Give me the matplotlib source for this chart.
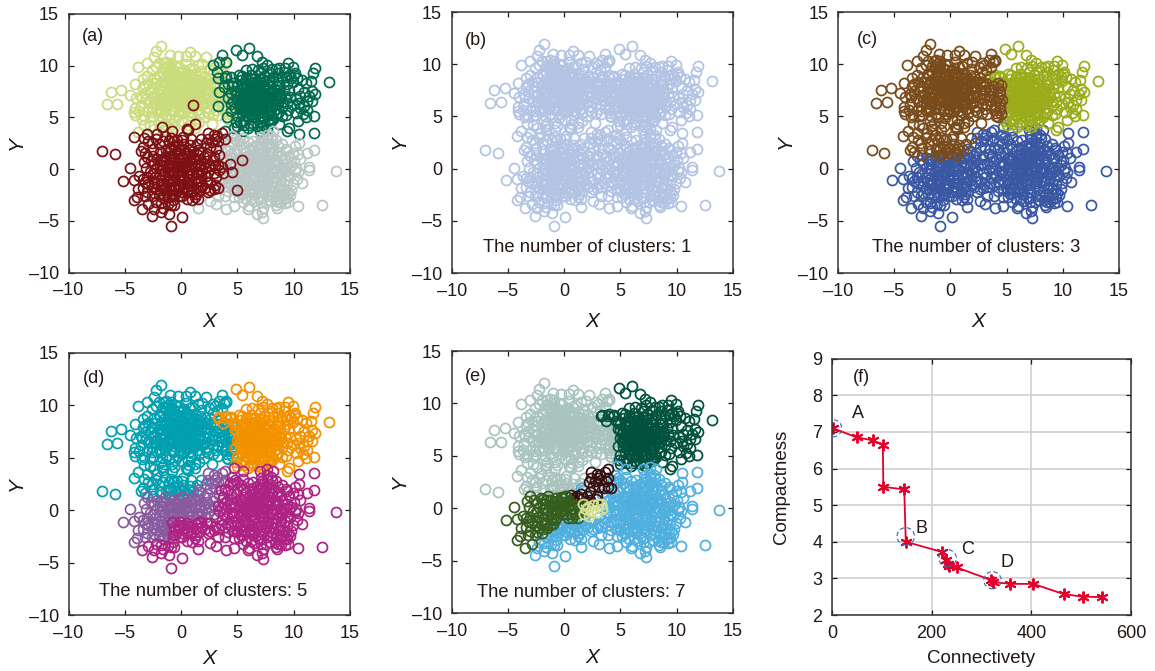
import matplotlib
matplotlib.use("Agg")
import matplotlib.pyplot as plt
from matplotlib.patches import Ellipse

plt.rcParams["font.family"] = ["Liberation Sans", "DejaVu Sans"]

# =========================
# DATA
# =========================
top_left = [
    (-6.6,6.3),(-6.2,7.5),(-5.3,7.7),(-5.65,6.35),(-4.5,7.2),(-4.1,8.2),(-3.85,9.9),(-4.0,6.9),(-4.1,5.9),(-4.15,5.5),
    (-4.05,5.2),(-3.6,6.2),(-3.4,7.9),(-3.2,7.4),(-3.0,10.3),(-2.6,9.6),(-2.4,10.8),(-2.2,11.4),(-1.8,11.9),(-2.9,6.5),
    (-3.0,5.6),(-3.3,4.3),(-2.8,4.2),(-3.8,3.6),(-2.9,8.3),(-2.7,7.4),(-2.6,6.0),(-2.5,5.1),(-2.4,8.8),(-2.2,9.9),
    (-2.0,7.7),(-2.1,6.7),(-1.9,5.6),(-1.8,4.6),(-1.6,3.8),(-1.7,8.4),(-1.6,9.3),(-1.5,10.3),(-1.4,7.2),(-1.4,6.2),
    (-1.3,5.2),(-1.2,10.0),(-1.2,8.8),(-1.1,7.8),(-1.0,6.7),(-1.0,9.5),(-0.9,5.7),(-0.8,4.4),(-0.8,8.3),(-0.7,7.2),
    (-0.6,6.1),(-0.5,9.1),(-0.5,10.0),(-0.4,7.8),(-0.4,6.7),(-0.3,10.9),(-0.3,5.2),(-0.2,8.5),(-0.1,7.3),(0.0,6.2),
    (0.1,9.4),(0.1,4.7),(0.2,8.0),(0.3,6.9),(0.3,5.5),(0.4,10.2),(0.5,7.6),(0.6,8.8),(0.6,6.3),(0.7,4.3),
    (0.8,11.3),(0.8,9.7),(0.9,7.2),(0.9,5.1),(1.0,8.3),(1.1,6.6),(1.2,10.9),(1.2,9.2),(1.3,7.8),(1.4,5.7),
    (1.5,10.1),(1.6,8.6),(1.6,7.1),(1.7,6.2),(1.8,9.5),(1.9,7.9),(2.0,5.0),(2.1,8.9),(2.2,10.8),(2.2,7.3),
    (2.3,6.0),(2.5,9.7),(2.6,8.2),(2.7,4.4),(2.7,6.8),(2.8,5.3),(3.0,9.9),(3.1,7.5),(3.2,6.2),(3.4,8.9),
    (3.9,6.7),(4.1,6.5),(4.0,6.0),(4.2,4.9),(4.1,5.3),(3.6,6.1),(4.3,8.8),(4.8,8.2),(4.0,10.3),(6.7,6.8),
    (-2.3,7.1),(-2.2,5.6),(-2.5,7.9),(-1.9,8.9),(-1.8,6.2),(-1.7,7.3),(-1.5,8.0),(-1.3,9.7),(-1.2,6.7),(-1.1,7.3),
    (-1.0,8.4),(-0.9,9.9),(-0.9,7.6),(-0.8,6.6),(-0.7,8.8),(-0.6,5.6),(-0.6,7.9),(-0.5,8.4),(-0.4,7.1),(-0.3,9.4),
    (-0.3,6.2),(-0.2,7.7),(-0.1,8.9),(-0.1,6.8),(0.0,7.9),(0.0,5.4),(0.1,8.4),(0.2,7.2),(0.2,6.5),(0.3,9.0),
    (0.4,7.8),(0.4,6.0),(0.5,8.3),(0.6,7.1),(0.7,7.9),(0.7,5.5),(0.8,6.7),(0.9,8.8),(1.0,7.6),(1.1,5.9),
    (1.2,7.2),(1.3,8.7),(1.4,6.4),(1.5,7.5),(1.7,8.2),(1.8,6.8),(2.0,7.7),(2.1,6.4),(2.3,8.3),(2.4,7.0),
    (-3.1,6.8),(-3.3,5.1),(-2.4,6.5),(-2.0,10.3),(-1.7,5.0),(-1.1,4.9),(-0.6,4.1),(0.4,4.0),(1.6,4.6),(2.4,5.4),
]
core_top_left = [
    (-1.3,10.4),(-0.9,10.3),(-1.6,9.8),(-1.2,9.3),(-0.7,9.6),(-0.2,9.9),(0.3,9.6),(0.7,9.2),(1.0,9.8),(-2.0,9.1),
    (-1.5,8.7),(-1.0,8.9),(-0.4,8.9),(0.1,8.9),(0.5,9.2),(1.1,8.7),(1.7,9.0),(-2.3,8.3),(-1.9,8.1),(-1.3,8.3),
    (-0.9,8.0),(-0.3,8.2),(0.3,8.3),(0.8,8.0),(1.4,8.2),(2.0,8.4),(2.6,8.7),(-2.7,7.8),(-2.1,7.4),(-1.6,7.6),
    (-1.2,7.6),(-0.7,7.7),(-0.2,7.5),(0.3,7.5),(0.8,7.6),(1.2,7.5),(1.8,7.5),(2.4,7.7),(2.9,8.2),(-2.5,7.0),
    (-1.9,6.9),(-1.5,6.8),(-0.8,7.0),(-0.2,7.0),(0.4,6.9),(1.0,6.9),(1.5,6.9),(2.1,6.9),(2.8,7.2),(3.4,7.0),
    (-2.2,6.3),(-1.6,6.4),(-1.0,6.3),(-0.4,6.4),(0.2,6.2),(0.7,6.5),(1.3,6.2),(1.9,6.3),(2.8,6.2),(-2.6,5.5),
    (-2.0,5.8),(-1.4,5.7),(-0.7,5.5),(-0.1,5.7),(0.5,5.8),(1.0,5.4),(1.6,5.3),(2.2,5.6),(3.1,5.7),(-1.5,4.4),
    (-0.5,4.8),(0.6,4.7),(1.2,4.0),(3.5,7.6),(3.8,7.2),(4.2,7.7),(4.4,7.1),(3.9,5.6),(4.4,5.9),(4.5,5.2),
    (-3.4,8.7),(-3.0,9.0),(-2.8,5.0),(-3.5,6.9),(3.6,9.7),(3.8,10.2),(2.8,9.3),(1.9,10.2),(0.4,10.9),(-1.0,11.0),
    (2.9,7.9),(3.2,8.2),(3.0,6.7),(3.5,6.6),(3.7,8.3),(3.3,5.2),(-3.6,7.1),(-3.7,5.6),(-3.2,8.1),(-3.5,4.9),(-2.4,3.9),
]
top_right = [
    (2.8,10.1),(3.4,10.4),(3.6,11.0),(4.0,10.4),(3.2,9.4),(3.3,8.8),(3.9,8.8),(4.6,8.3),(3.8,7.9),(3.4,7.5),
    (3.3,6.1),(4.4,6.3),(4.1,5.0),(4.9,11.5),(5.4,11.0),(6.0,11.7),(6.7,10.9),(7.2,10.4),(7.6,10.1),(8.1,9.7),
    (8.7,9.8),(9.5,10.3),(9.9,9.9),(10.0,9.1),(10.3,8.8),(10.4,7.8),(11.1,8.3),(11.5,8.5),(13.1,8.4),(11.7,9.3),
    (11.9,9.8),(11.6,7.6),(11.9,7.3),(11.2,6.6),(11.6,6.6),(10.6,5.9),(10.8,5.3),(11.2,5.7),(11.1,5.0),(11.8,5.1),
    (10.4,4.7),(10.5,3.4),(11.8,3.5),(9.3,5.2),(9.6,4.0),(9.4,3.7),(8.7,4.4),(7.0,3.7),(7.2,4.0),(7.6,3.9),
    (5.5,3.7),(4.7,4.0),(3.9,3.7),(5.0,4.2),(5.5,4.7),(5.9,4.0),(6.3,4.5),(6.6,5.0),(7.0,4.6),(7.4,5.0),
    (7.8,4.5),(8.2,4.9),(8.6,5.4),(9.0,5.1),(9.5,5.7),(9.9,6.2),(10.2,6.8),(9.7,7.0),(9.4,6.4),(9.0,6.0),
    (8.7,6.6),(8.4,5.8),(8.1,6.3),(7.8,5.5),(7.5,6.0),(7.2,5.5),(6.9,5.9),(6.5,5.6),(6.2,5.2),(5.8,5.5),
    (5.4,5.4),(5.0,5.1),(4.8,5.9),(5.1,6.4),(5.5,6.1),(5.9,6.5),(6.2,6.1),(6.5,6.6),(6.9,6.4),(7.2,6.8),
    (7.6,6.5),(8.0,7.0),(8.4,6.9),(8.8,7.3),(9.2,7.1),(9.6,7.7),(9.9,8.4),(9.4,8.2),(9.0,8.8),(8.7,8.1),
    (8.3,7.7),(7.9,7.9),(7.5,7.3),(7.1,7.6),(6.7,7.2),(6.3,7.5),(5.9,7.1),(5.5,7.4),(5.1,7.1),(4.8,7.6),
    (5.0,8.0),(5.4,8.2),(5.8,7.9),(6.2,8.3),(6.6,8.0),(7.0,8.4),(7.4,8.1),(7.8,8.6),(8.2,8.9),(8.6,9.3),
    (9.1,9.4),(7.4,9.0),(7.0,9.3),(6.6,8.8),(6.2,9.1),(5.8,8.8),(5.4,9.0),(5.1,9.1),(5.8,9.6),(6.3,9.7),
    (6.8,9.6),(7.3,9.8),(7.8,9.4),(6.0,5.9),(6.1,6.9),(6.4,7.0),(6.6,6.2),(6.8,7.7),(7.0,7.0),(7.3,6.3),
    (5.7,6.8),(5.6,7.9),(6.0,8.5),(6.4,5.9),(6.8,5.4),(7.1,6.1),(7.4,7.7),(7.7,7.1),(5.3,6.7),(5.2,5.8),
    (6.1,7.6),(6.5,8.4),(6.9,8.7),(5.9,5.0),(5.2,4.6),(8.5,7.4),(8.9,6.9),(8.0,5.2),(7.7,4.8),(6.7,4.2),
]
core_top_right = [
    (5.3,8.6),(5.7,8.4),(6.3,8.7),(6.8,8.3),(7.2,8.7),(7.7,8.2),(8.1,8.3),(8.6,8.6),(9.3,8.9),(5.0,7.5),
    (5.4,7.8),(5.8,7.5),(6.2,7.9),(6.5,7.7),(6.9,8.0),(7.3,8.0),(7.7,7.7),(8.1,7.5),(8.5,8.0),(9.1,7.7),
    (5.2,7.3),(5.6,7.1),(6.0,7.3),(6.3,7.2),(6.6,7.5),(6.9,7.3),(7.2,7.3),(7.5,7.0),(7.9,7.3),(8.3,7.1),
    (8.7,7.0),(9.0,6.5),(5.0,6.7),(5.4,6.6),(5.7,6.4),(6.0,6.7),(6.3,6.6),(6.6,6.8),(6.9,6.8),(7.2,6.5),
    (7.5,6.7),(7.8,6.8),(8.2,6.6),(8.5,6.3),(5.2,6.2),(5.6,5.9),(5.9,6.1),(6.2,6.4),(6.5,6.1),(6.8,6.1),
    (7.1,6.4),(7.4,6.2),(7.7,6.0),(8.0,5.8),(8.3,6.2),(5.5,5.7),(5.8,5.2),(6.2,5.6),(6.6,5.7),(7.0,5.6),
    (7.3,5.8),(7.6,5.2),(8.0,4.7),(8.4,5.3),(5.6,4.3),(6.4,5.0),(7.1,5.1),(7.3,4.3),(6.1,4.3),(4.9,4.6),
    (4.0,9.0),(4.4,8.9),(4.2,8.2),(9.6,9.1),(9.8,8.8),(10.1,9.3),(9.2,9.8),(8.4,9.7),(10.6,7.1),(10.9,6.1),
    (4.4,7.4),(4.2,6.9),(4.5,8.0),(4.6,6.6),(4.4,5.6),(10.2,5.4),(10.7,8.6),(10.9,7.5),(11.4,7.1),(10.5,6.4),
]
bottom_left = [
    (-7.0,1.8),(-5.9,1.5),(-5.2,-1.1),(-4.5,0.1),(-4.2,-1.0),(-4.2,3.1),(-4.2,-3.0),(-3.95,-2.7),(-3.8,-1.9),(-3.4,-1.8),
    (-3.5,-3.8),(-3.3,3.0),(-3.4,2.1),(-3.2,1.6),(-3.3,0.7),(-3.1,0.1),(-3.4,-0.9),(-2.9,-3.4),(-2.6,-4.5),(-2.4,-3.8),
    (-1.8,-4.1),(-1.8,-3.3),(-1.1,-4.3),(-0.9,-3.5),(-0.6,-3.5),(-0.9,-5.5),(0.1,-4.6),(0.1,-2.6),(-1.7,4.1),(-0.8,3.7),
    (0.5,3.9),(0.6,3.8),(1.2,4.4),(1.1,6.2),(2.4,3.5),(2.9,3.3),(3.2,3.2),(3.9,2.9),(2.7,2.6),(3.1,2.0),
    (2.6,2.1),(1.8,2.9),(3.3,0.4),(3.4,-0.1),(4.3,0.5),(4.5,-0.3),(5.4,0.9),(5.0,-2.0),(3.3,-1.8),(3.0,-1.5),
    (2.4,-2.2),(1.5,-2.9),(1.2,-2.7),(1.0,-3.0),(-2.9,2.7),(-2.5,2.0),(-2.2,2.9),(-1.9,1.7),(-1.6,2.7),(-1.3,1.9),
    (-0.9,3.0),(-0.7,2.2),(-0.4,2.8),(-0.1,1.9),(0.2,2.4),(0.5,1.6),(0.8,2.3),(1.1,1.8),(1.4,2.4),(1.7,1.7),
    (2.0,1.2),(2.3,0.8),(2.6,0.3),(2.9,-0.4),(2.2,-0.7),(2.6,-1.2),(1.9,-1.6),(1.6,-2.1),(1.3,-1.3),(1.5,-0.4),
    (1.7,0.4),(1.3,1.0),(0.9,0.3),(1.0,-0.6),(0.7,-1.5),(0.5,-2.2),(0.3,-0.9),(0.4,0.7),(0.1,1.2),(-0.1,0.2),
    (-0.2,-0.6),(-0.3,-1.6),(-0.5,-2.4),(-0.6,0.7),(-0.7,-0.2),(-0.8,-1.1),(-0.9,-2.0),(-1.0,1.3),(-1.1,0.3),(-1.2,-0.6),
    (-1.3,-1.6),(-1.5,-2.5),(-1.6,0.8),(-1.7,-0.1),(-1.8,-1.0),(-1.9,-2.0),(-2.1,1.0),(-2.2,0.1),(-2.3,-0.8),(-2.4,-1.7),
    (-2.6,-2.6),(-2.7,0.8),(-2.8,-0.3),(-2.9,-1.4),(-3.0,-2.2),(-0.4,0.3),(-0.1,-1.1),(0.2,-0.2),(0.6,-0.6),(0.8,1.0),
    (-0.9,0.6),(-1.4,-0.3),(-1.0,-0.9),(-0.6,-1.6),(-0.2,1.0),(0.2,0.6),(0.5,-1.2),(1.2,0.2),(1.8,-0.6),(2.1,0.1),
    (-1.9,0.4),(-2.1,-1.3),(-1.5,-1.9),(-1.1,-2.7),(-0.3,-2.0),(0.2,-1.8),(0.9,-2.2),(1.7,1.0),(0.6,1.3),(-0.3,1.5),
    (-1.2,1.7),(-2.5,1.3),(-3.0,-0.8),(-2.4,-2.3),(-1.7,-2.7),(-0.7,-3.0),(0.5,-2.9),(1.6,-1.1),(2.6,-2.0),(3.7,-0.4),
]
core_bottom_left = [
    (-0.6,2.7),(-0.3,2.2),(0.1,2.8),(-0.9,2.0),(-0.4,1.7),(0.3,1.9),(0.7,1.9),(-1.4,1.2),(-0.8,1.3),(-0.3,1.1),
    (0.2,1.2),(0.7,0.8),(1.1,1.2),(1.5,1.4),(-1.9,0.9),(-1.3,0.8),(-0.7,1.0),(-0.2,0.6),(0.4,0.3),(1.0,0.6),
    (1.5,0.3),(2.0,0.5),(-2.4,0.5),(-1.7,0.4),(-1.2,0.2),(-0.7,0.3),(-0.2,0.0),(0.3,0.1),(0.8,-0.1),(1.3,-0.3),
    (1.9,-0.1),(2.4,-0.3),(-2.5,-0.4),(-1.9,-0.5),(-1.4,-0.7),(-0.8,-0.5),(-0.3,-0.3),(0.2,-0.6),(0.7,-0.9),(1.2,-0.9),
    (1.8,-1.1),(2.3,-1.2),(-2.4,-1.2),(-1.8,-1.4),(-1.2,-1.1),(-0.7,-0.9),(-0.2,-1.4),(0.3,-1.4),(0.9,-1.6),(1.4,-1.7),
    (2.1,-1.8),(-2.2,-1.9),(-1.6,-1.6),(-1.0,-1.5),(-0.5,-1.9),(0.1,-2.2),(0.6,-1.9),(1.1,-2.0),(-2.0,-2.4),(-1.3,-2.2),
    (-0.7,-2.4),(-0.1,-2.6),(1.3,-2.4),(-3.2,-1.2),(-3.2,-2.6),(-2.2,-3.2),(-1.2,-3.4),(-1.6,-3.7),(-3.0,1.2),(-2.6,2.5),
    (-2.0,2.4),(-1.1,2.7),(0.9,2.9),(0.2,3.1),(-1.4,3.2),(1.5,1.9),(2.3,1.5),(2.9,1.2),(2.2,2.5),(3.3,2.7),
    (2.8,0.9),(3.1,-0.8),(2.9,-1.9),(3.6,0.2),(3.0,2.9),(2.4,2.9),(3.6,3.5),(3.4,1.4),(3.0,0.4),(-3.7,-0.7),
    (-3.6,1.8),(-3.0,3.4),(-2.1,3.4),
]
bottom_right = [
    (13.8,-0.2),(12.5,-3.5),(10.4,-3.6),(11.4,0.2),(11.4,-0.1),(10.7,-1.3),(10.3,-0.9),(11.8,1.9),(11.2,1.6),(10.5,2.5),
    (10.1,2.2),(10.6,1.0),(9.4,1.8),(1.5,-3.7),(2.6,-3.1),(3.1,-3.4),(4.0,-3.8),(4.7,-3.6),(6.0,-3.6),(5.9,-3.8),
    (6.7,-4.3),(7.3,-4.7),(7.2,-4.1),(7.3,-3.7),(7.1,-3.2),(8.4,-3.5),(8.5,-3.7),(9.5,-3.2),(9.4,-2.8),(8.8,-2.6),
    (4.6,2.5),(4.8,2.9),(5.0,2.7),(5.5,3.0),(5.9,2.6),(7.6,3.3),(8.2,3.7),(8.0,3.2),(7.4,2.6),(3.5,1.9),
    (3.9,2.0),(4.2,1.9),(4.3,1.1),(3.6,-0.9),(3.9,-1.6),(4.2,-2.1),(4.5,-1.0),(4.7,-2.7),(4.8,0.3),(4.9,1.5),
    (5.1,-0.4),(5.2,-1.5),(5.3,-2.4),(5.4,0.7),(5.5,1.9),(5.6,-0.9),(5.7,-2.0),(5.8,-2.9),(5.9,0.2),(6.0,1.2),
    (6.1,2.0),(6.2,-0.5),(6.3,-1.4),(6.4,-2.4),(6.5,0.7),(6.6,1.6),(6.7,-0.1),(6.8,-1.0),(6.9,-2.0),(7.0,-2.8),
    (7.1,1.0),(7.2,2.1),(7.3,0.2),(7.4,-0.7),(7.5,-1.7),(7.6,-2.6),(7.7,0.8),(7.8,1.7),(7.9,2.5),(8.0,-0.2),
    (8.1,-1.2),(8.2,-2.2),(8.3,-3.0),(8.4,0.5),(8.5,1.3),(8.6,2.2),(8.7,-0.5),(8.8,-1.5),(8.9,0.1),(9.0,1.0),
    (9.1,-2.0),(9.2,-1.0),(9.3,-0.2),(9.4,0.6),(9.5,-2.3),(9.6,1.3),(9.7,-0.7),(9.8,0.3),(9.9,-1.4),(10.0,0.8),
    (10.2,0.1),(10.4,-0.3),(6.2,0.4),(6.4,-0.1),(6.6,0.9),(6.9,0.4),(7.1,1.6),(7.3,-0.2),(7.5,0.5),(7.7,-1.2),
    (5.5,-0.3),(5.8,0.6),(5.9,-1.2),(6.1,-1.9),(6.3,1.4),(6.8,-1.5),(7.0,-0.5),(7.2,2.8),(7.9,1.0),(8.1,2.9),
    (5.2,0.4),(5.4,-1.9),(5.7,-1.0),(6.5,-0.8),(6.7,2.3),(7.4,1.3),(7.6,-0.2),(8.3,0.0),(8.5,-0.8),(8.2,1.8),
    (4.5,-0.2),(4.8,-1.4),(5.0,-2.1),(5.3,1.1),(6.0,-0.3),(6.4,-1.8),(6.9,1.2),(7.8,-2.0),(8.6,-1.9),(9.1,-2.8),
    (9.3,2.0),(9.0,-0.4),(8.9,-3.2),(7.5,-3.2),(6.5,-3.1),(5.5,-3.2),(4.4,1.5),(3.8,0.7),(4.1,-0.6),(3.3,-2.6),
]
core_bottom_right = [
    (7.6,2.9),(7.0,2.5),(6.4,2.1),(6.9,2.0),(7.5,2.1),(8.0,2.1),(5.8,1.7),(6.3,1.8),(6.8,1.6),(7.4,1.8),
    (8.0,1.5),(8.6,1.7),(5.6,1.2),(6.2,1.0),(6.7,1.2),(7.3,0.9),(7.8,1.3),(8.3,1.0),(8.9,1.4),(5.0,0.9),
    (5.5,0.4),(6.0,0.5),(6.4,0.9),(7.0,0.8),(7.4,0.2),(7.9,0.5),(8.5,0.7),(9.1,0.2),(9.6,0.1),(4.6,0.4),
    (5.1,0.0),(5.6,0.1),(6.1,-0.1),(6.6,0.3),(7.1,0.1),(7.7,0.1),(8.2,-0.4),(8.8,-0.2),(9.4,-0.6),(4.7,-0.6),
    (5.3,-0.7),(5.8,-0.6),(6.3,-0.9),(6.9,-0.3),(7.3,-1.0),(7.8,-0.7),(8.3,-1.2),(8.9,-1.0),(9.4,-1.5),(4.4,-1.5),
    (5.0,-1.1),(5.5,-1.4),(6.0,-1.5),(6.6,-1.3),(7.1,-1.6),(7.6,-1.4),(8.2,-1.7),(8.7,-1.9),(9.3,-2.1),(4.7,-2.0),
    (5.3,-2.0),(5.9,-2.2),(6.5,-2.1),(7.2,-2.2),(7.9,-2.5),(8.5,-2.4),(9.0,-2.4),(5.1,-2.7),(6.2,-2.9),(6.8,-2.7),
    (7.9,-3.0),(8.6,-3.2),(9.2,-3.3),(9.7,-2.5),(5.0,2.0),(5.3,2.4),(6.4,2.7),(8.4,2.8),(9.0,2.4),(7.1,3.1),
    (3.7,1.2),(3.5,-1.4),(4.0,0.1),(4.2,-1.3),(3.9,-2.6),(4.3,2.6),(3.7,2.6),(4.5,3.2),(4.1,0.9),(9.8,-2.0),
    (10.1,-0.2),(9.9,1.6),(10.4,1.5),
]

xy_ticks = [-10, -5, 0, 5, 10, 15]
xy_tick_labels = ["\u201310", "\u20135", "0", "5", "10", "15"]

pareto_conn = [2, 50, 82, 102, 103, 145, 148, 221, 228, 232, 234, 250, 320, 323, 358, 404, 465, 503, 541]
pareto_comp = [7.1, 6.85, 6.77, 6.65, 5.5, 5.43, 4.0, 3.72, 3.5, 3.4, 3.35, 3.3, 2.95, 2.9, 2.85, 2.85, 2.57, 2.5, 2.49]
circle_x = [2, 148, 232, 322]
circle_y = [7.1, 4.15, 3.55, 2.95]
circle_names = ["A", "B", "C", "D"]
name_x = [52, 179, 273, 352]
name_y = [7.5, 4.36, 3.78, 3.44]

group_tl = top_left + core_top_left
group_tr = top_right + core_top_right
group_bl = bottom_left + core_bottom_left
group_br = bottom_right + core_bottom_right
all_points = group_tl + group_tr + group_bl + group_br

COL_A = {"tl": "#cbdc7c", "tr": "#006b4f", "bl": "#7e0f13", "br": "#b8c7c3"}
COL_B = "#b3c3e4"
COL_C = {"blue": "#3a57a4", "green": "#9aac1a", "brown": "#7a4b1a"}
COL_D = {"teal": "#00a0b0", "orange": "#f39200", "purple": "#8a5aa0", "magenta": "#ad2283"}
COL_E = {"grey": "#a9c4bf", "dark": "#00523c", "blue": "#4fafdf", "olive": "#355e1e",
         "black": "#35100f", "yellow": "#d6e08f"}
TEXT = "#231815"


# =========================
# CLUSTER REGIONS
# =========================
def is_right_top(x, y):
    if 3 < x < 5 and 8.2 < y < 9.3:
        return True
    return x > 4.7 and (y > 3.9 or (8.5 < x < 10 and y > 3.4))


def is_left_top(x, y):
    if x <= 4.7 and y > 4.2:
        return True
    return x < 2.3 and y > 1.2 + max(0, (x - 1) * 1.4)


def label_c(x, y):
    if is_right_top(x, y):
        return "green"
    return "brown" if is_left_top(x, y) else "blue"


def label_d(x, y):
    if is_right_top(x, y):
        return "orange"
    if is_left_top(x, y):
        return "teal"
    if y >= 0.8 and x < (3.5 if y < 2.6 else 4.3) and x > 0.5:
        return "purple"
    if x < 3.2 and y > -1.0:
        return "purple"
    if x < -0.8 and y > -3.2:
        return "purple"
    return "magenta"


def label_e(x, y):
    if is_right_top(x, y):
        return "dark"
    if 1.9 < x < 4.3 and 1.4 < y < 4.2:
        return "black"
    if 0.5 < x < 3.2 and 0.4 < y <= 1.6:
        return "black"
    if is_left_top(x, y):
        return "grey"
    if 1.5 < x < 3.6 and -0.8 < y <= 0.4:
        return "yellow"
    if x <= 1.5 and y <= 1.2 and y > -1.0 - max(0, (-0.5 - x) * 1.1):
        return "olive"
    return "blue"


# =========================
# FIGURE
# =========================
W, H = 1155, 671
fig = plt.figure(figsize=(W / 100, H / 100), dpi=100, facecolor="white")


def make_axes(left, right, top, bottom):
    return fig.add_axes([left / W, 1 - bottom / H, (right - left) / W, (bottom - top) / H])


def style_axes(ax):
    ax.tick_params(direction="in", top=True, right=True, length=3.5, width=0.9,
                   labelsize=13, colors=TEXT, pad=7)
    for spine in ax.spines.values():
        spine.set_linewidth(1.1)
        spine.set_edgecolor("#333333")


def scatter_panel(rect, groups, tag, tag_xy, note=None, note_xy=None, xpad=9):
    ax = make_axes(*rect)
    for pts, col in groups:
        if pts:
            ax.plot([p[0] for p in pts], [p[1] for p in pts], "o", mfc="none",
                    mec=col, ms=7.2, mew=1.25, ls="none")
    ax.set_xlim(-10, 15)
    ax.set_ylim(-10, 15)
    ax.set_xticks(xy_ticks, xy_tick_labels)
    ax.set_yticks(xy_ticks, xy_tick_labels)
    style_axes(ax)
    ax.set_xlabel("X", style="italic", fontsize=15, color=TEXT, labelpad=xpad)
    ax.set_ylabel("Y", style="italic", fontsize=15, color=TEXT, labelpad=2)
    ax.text(tag_xy[0], tag_xy[1], tag, fontsize=13, color=TEXT, va="center")
    if note:
        ax.text(note_xy[0], note_xy[1], note, fontsize=13.2, color=TEXT, ha="center", va="center")
    return ax


def split(points, func, order, colors):
    return [([p for p in points if func(*p) == k], colors[k]) for k in order]


scatter_panel((68.5, 350, 14, 272.7),
              [(group_tl, COL_A["tl"]), (group_tr, COL_A["tr"]),
               (group_br, COL_A["br"]), (group_bl, COL_A["bl"])],
              "(a)", (-8.8, 12.8))
scatter_panel((451.7, 733, 12, 273), [(all_points, COL_B)],
              "(b)", (-8.8, 12.3), "The number of clusters: 1", (2.0, -7.6))
scatter_panel((838, 1119, 12, 273),
              split(all_points, label_c, ["blue", "green", "brown"], COL_C),
              "(c)", (-8.3, 12.4), "The number of clusters: 3", (2.3, -7.6))
scatter_panel((68.5, 350, 352.7, 615),
              split(all_points, label_d, ["teal", "orange", "purple", "magenta"], COL_D),
              "(d)", (-8.75, 12.5), "The number of clusters: 5", (2.0, -7.8), xpad=5)
scatter_panel((451.7, 733, 351, 613),
              split(all_points, label_e, ["grey", "dark", "blue", "black", "olive", "yellow"], COL_E),
              "(e)", (-8.8, 12.6), "The number of clusters: 7", (1.5, -8.0), xpad=6)

# panel f
ax = make_axes(832, 1131, 358.7, 615)
ax.grid(True, color="#cfcfcf", lw=1.2)
ax.set_axisbelow(True)
ax.plot(pareto_conn, pareto_comp, "-", color="#e3002b", lw=1.3, marker=(6, 2, 0), ms=8.5, mew=1.4)
for cx, cy in zip(circle_x, circle_y):
    ax.add_patch(Ellipse((cx, cy), 35, 0.47, fill=False, ec="#3a62b0", lw=0.8, ls=(0, (4, 2.5)), zorder=4))
for nx, ny, name in zip(name_x, name_y, circle_names):
    ax.text(nx, ny, name, fontsize=13, color=TEXT, ha="center", va="center")
ax.text(41, 8.5, "(f)", fontsize=13, color=TEXT, va="center")
ax.set_xlim(0, 600)
ax.set_ylim(2, 9)
ax.set_xticks([0, 200, 400, 600])
ax.set_yticks([2, 3, 4, 5, 6, 7, 8, 9])
style_axes(ax)
ax.set_xlabel("Connectivety", fontsize=13.5, color=TEXT, labelpad=6)
ax.set_ylabel("Compactness", fontsize=13.5, color=TEXT, labelpad=16)

fig.savefig("out.png", dpi=100, facecolor="white")
